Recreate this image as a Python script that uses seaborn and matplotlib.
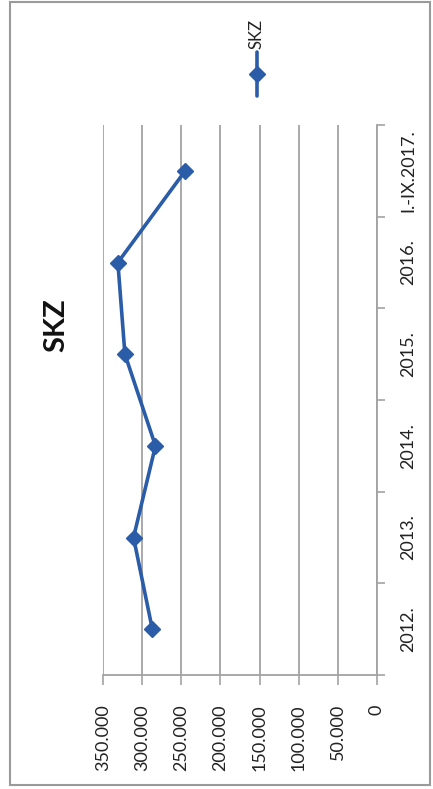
import numpy as np
import pandas as pd
import matplotlib.pyplot as plt
import seaborn as sns
from matplotlib.lines import Line2D
from matplotlib.patches import Rectangle
from matplotlib.ticker import FuncFormatter

periods = ['2012.', '2013.', '2014.', '2015.', '2016.', 'I.-IX.2017.']
skz_values = [287000, 311000, 283000, 322000, 331000, 245000]
value_ticks = [0, 50000, 100000, 150000, 200000, 250000, 300000, 350000]

sns.set_theme(style='white')
plt.rcParams['font.family'] = ['Lato', 'DejaVu Sans']

df = pd.DataFrame({'period': periods,
                   'pos': np.arange(len(periods)),
                   'skz': skz_values})

blue = '#2b5ca8'
grey = '#a3a3a3'
W, H = 433, 789

fig = plt.figure(figsize=(W / 100, H / 100), dpi=100)
fig.patch.set_facecolor('white')

# plot area (chart is turned 90 degrees: values run right-to-left, periods bottom-to-top)
ax = fig.add_axes([103 / W, 1 - 675 / H, (377 - 103) / W, (675 - 125) / H])
sns.lineplot(data=df, x='skz', y='pos', sort=False, orient='y', ax=ax,
             color=blue, lw=2.6, marker='D', markersize=8,
             markeredgecolor=blue, markeredgewidth=1)

ax.set_xlim(350000, 0)
ax.set_ylim(-0.5, len(periods) - 0.5)
ax.set_xlabel('')
ax.set_ylabel('')

# value axis
ax.set_xticks(value_ticks)
ax.xaxis.set_major_formatter(FuncFormatter(lambda v, p: f'{v:,.0f}'.replace(',', '.')))
ax.xaxis.grid(True, color=grey, lw=1.3)
ax.yaxis.grid(False)
ax.tick_params(axis='x', which='major', bottom=True, length=7, width=1.2,
               color=grey, direction='out', labelsize=13, labelrotation=90,
               pad=14, labelcolor='#222222')

# category axis on the right, ticks between categories
ax.set_yticks(np.arange(-0.5, len(periods), 1.0))
ax.set_yticks(df['pos'], minor=True)
ax.set_yticklabels([])
ax.set_yticklabels(periods, minor=True)
ax.tick_params(axis='y', which='both', left=False, right=True,
               labelleft=False, labelright=True)
ax.tick_params(axis='y', which='major', length=6, width=1.2, color=grey,
               direction='out')
ax.tick_params(axis='y', which='minor', length=0, pad=17, labelsize=13,
               labelcolor='#222222')
for lbl in ax.get_yticklabels(minor=True):
    lbl.set_rotation(90)
    lbl.set_va('center')
    lbl.set_ha('left')

for side in ['top', 'left']:
    ax.spines[side].set_visible(False)
for side in ['bottom', 'right']:
    ax.spines[side].set_color(grey)
    ax.spines[side].set_linewidth(1.3)

# title
fig.text(56 / W, 1 - 325 / H, 'SKZ', rotation=90, ha='center', va='center',
         fontsize=21, fontweight='bold', color='#111111')

# legend (rotated like the rest of the chart)
lx = 257 / W
fig.add_artist(Line2D([lx, lx], [1 - 52 / H, 1 - 96 / H], transform=fig.transFigure,
                      color=blue, lw=2.6))
fig.add_artist(Line2D([lx], [1 - 74 / H], transform=fig.transFigure,
                      marker='D', markersize=8, color=blue))
fig.text(lx, 1 - 34 / H, 'SKZ', rotation=90, ha='center', va='center',
         fontsize=12, color='#222222')

# chart border
fig.add_artist(Rectangle((10 / W, 1 - 785 / H), 420 / W, 783 / H,
                         transform=fig.transFigure, fill=False,
                         edgecolor='#9a9a9a', lw=1.5))

fig.savefig('out.png', dpi=100)
